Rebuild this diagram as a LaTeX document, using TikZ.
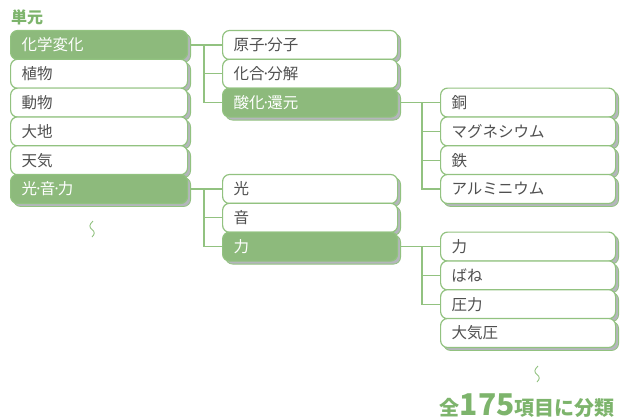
\documentclass[tikz,border=0pt]{standalone}
\usepackage{fontspec}
\setmainfont{Noto Sans CJK JP}
\usepackage{tikz}
\usetikzlibrary{positioning,backgrounds,shadows}

\definecolor{unitgreen}{RGB}{141,186,124}
\definecolor{edgegreen}{RGB}{146,194,128}
\definecolor{shadowgray}{RGB}{180,182,188}
\definecolor{labelgray}{RGB}{80,80,80}
\definecolor{titlegreen}{RGB}{125,180,108}

\newcommand{\ndot}{\kern-3pt·\kern-3pt}

\tikzset{
    unitbox/.style={draw=edgegreen, line width=1.2pt, fill=white, rounded corners=7pt,
        minimum height=29pt, text width=#1, inner xsep=11pt, inner ysep=0pt, align=left,
        anchor=west, text=labelgray, font=\fontsize{15.5}{17}\selectfont,
        general shadow={fill=shadowgray, draw=edgegreen, line width=0.8pt,
            shadow xshift=3pt, shadow yshift=-3pt}},
    selbox/.style={fill=unitgreen, text=white},
    branch/.style={draw=edgegreen, line width=1.2pt},
    wave/.style={draw=edgegreen, line width=0.9pt},
    heading/.style={text=titlegreen, font=\bfseries\fontsize{16}{18}\selectfont, inner sep=0pt}
}

\begin{document}
\begin{tikzpicture}[x=1pt,y=1pt,yscale=-1,xscale=1]
    \useasboundingbox (0,0) rectangle (622,418);
    % heading
    \node[heading, anchor=west] (tangen) at (11,17) {単元};
    % left column
    \node[unitbox=155pt, selbox] (kagaku) at (10,45) {化学変化};
    \node[unitbox=155pt] (shokubutsu) at (10,73.8) {植物};
    \node[unitbox=155pt] (doubutsu) at (10,102.6) {動物};
    \node[unitbox=155pt] (daichi) at (10,131.4) {大地};
    \node[unitbox=155pt] (tenki) at (10,160.2) {天気};
    \node[unitbox=155pt, selbox] (hikari) at (10,189) {光\ndot 音\ndot 力};
    % middle column
    \node[unitbox=153pt] (genshi) at (222,45) {原子\ndot 分子};
    \node[unitbox=153pt] (kagou) at (222,73.8) {化合\ndot 分解};
    \node[unitbox=153pt, selbox] (sanka) at (222,102.6) {酸化\ndot 還元};
    \node[unitbox=153pt] (hikari2) at (222,189) {光};
    \node[unitbox=153pt] (oto) at (222,217.8) {音};
    \node[unitbox=153pt, selbox] (chikara) at (222,246.6) {力};
    % right column
    \node[unitbox=153pt] (dou) at (440,102.6) {銅};
    \node[unitbox=153pt] (magne) at (440,131.4) {マグネシウム};
    \node[unitbox=153pt] (tetsu) at (440,160.2) {鉄};
    \node[unitbox=153pt] (alumi) at (440,189) {アルミニウム};
    \node[unitbox=153pt] (chikara2) at (440,246.6) {力};
    \node[unitbox=153pt] (bane) at (440,275.4) {ばね};
    \node[unitbox=153pt] (atsu) at (440,304.2) {圧力};
    \node[unitbox=153pt] (taiki) at (440,333) {大気圧};
    % trunks
    \coordinate (trunkA) at (204,45);
    \coordinate (trunkB) at (204,189);
    \coordinate (trunkC) at (422,102.6);
    \coordinate (trunkD) at (422,246.6);
    \begin{scope}[on background layer]
        \draw[branch] (kagaku.east) -- (trunkA) |- (genshi.west);
        \draw[branch] (trunkA) |- (kagou.west);
        \draw[branch] (trunkA) |- (sanka.west);
        \draw[branch] (hikari.east) -- (trunkB) |- (hikari2.west);
        \draw[branch] (trunkB) |- (oto.west);
        \draw[branch] (trunkB) |- (chikara.west);
        \draw[branch] (sanka.east) -- (trunkC) |- (dou.west);
        \draw[branch] (trunkC) |- (magne.west);
        \draw[branch] (trunkC) |- (tetsu.west);
        \draw[branch] (trunkC) |- (alumi.west);
        \draw[branch] (chikara.east) -- (trunkD) |- (chikara2.west);
        \draw[branch] (trunkD) |- (bane.west);
        \draw[branch] (trunkD) |- (atsu.west);
    \end{scope}
    % squiggles
    \draw[wave] (93,221) .. controls (89,225) and (89,227) .. (92,229.5) .. controls (95,232) and (95,234) .. (92,237);
    \draw[wave] (538,366) .. controls (534,370) and (534,372) .. (537,374.5) .. controls (540,377) and (540,379) .. (537,382);
    % total
    \node[heading, anchor=east, font=\bfseries\fontsize{20}{22}\selectfont] (total) at (615,406)
        {全{\fontsize{30}{30}\selectfont 175}項目に分類};
\end{tikzpicture}
\end{document}
